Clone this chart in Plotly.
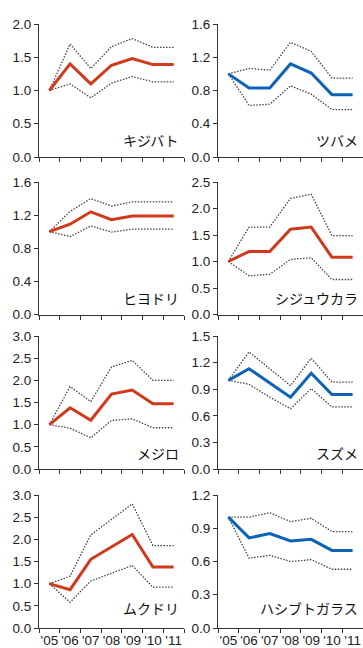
import plotly.graph_objects as go

years = ["'05", "'06", "'07", "'08", "'09", "'10", "'11"]

# キジバト
kijibato_mid = [1.0, 1.40, 1.10, 1.38, 1.48, 1.39, 1.39]
kijibato_hi = [1.0, 1.70, 1.33, 1.66, 1.78, 1.65, 1.65]
kijibato_lo = [1.0, 1.10, 0.89, 1.11, 1.21, 1.13, 1.13]
# ツバメ
tsubame_mid = [1.0, 0.83, 0.83, 1.12, 1.01, 0.75, 0.75]
tsubame_hi = [1.0, 1.065, 1.045, 1.38, 1.27, 0.95, 0.95]
tsubame_lo = [1.0, 0.62, 0.635, 0.856, 0.756, 0.57, 0.57]
# ヒヨドリ
hiyodori_mid = [1.0, 1.09, 1.24, 1.145, 1.19, 1.19, 1.19]
hiyodori_hi = [1.0, 1.245, 1.40, 1.31, 1.36, 1.36, 1.36]
hiyodori_lo = [1.0, 0.94, 1.07, 0.995, 1.03, 1.03, 1.03]
# シジュウカラ
shijukara_mid = [1.0, 1.19, 1.19, 1.61, 1.65, 1.08, 1.08]
shijukara_hi = [1.0, 1.65, 1.65, 2.19, 2.27, 1.49, 1.49]
shijukara_lo = [1.0, 0.73, 0.76, 1.04, 1.07, 0.66, 0.66]
# メジロ
mejiro_mid = [1.0, 1.38, 1.10, 1.69, 1.78, 1.47, 1.47]
mejiro_hi = [1.0, 1.86, 1.52, 2.30, 2.45, 2.0, 2.0]
mejiro_lo = [1.0, 0.92, 0.705, 1.095, 1.13, 0.93, 0.93]
# スズメ
suzume_mid = [1.0, 1.13, 0.97, 0.81, 1.08, 0.84, 0.84]
suzume_hi = [1.0, 1.32, 1.13, 0.94, 1.25, 0.98, 0.98]
suzume_lo = [1.0, 0.955, 0.81, 0.68, 0.906, 0.70, 0.70]
# ムクドリ
mukudori_mid = [1.0, 0.865, 1.55, 1.83, 2.11, 1.375, 1.375]
mukudori_hi = [1.0, 1.17, 2.10, 2.45, 2.80, 1.86, 1.86]
mukudori_lo = [1.0, 0.58, 1.06, 1.24, 1.41, 0.92, 0.92]
# ハシブトガラス
hashibuto_mid = [1.0, 0.813, 0.852, 0.785, 0.80, 0.70, 0.70]
hashibuto_hi = [1.0, 1.0, 1.04, 0.96, 0.99, 0.87, 0.87]
hashibuto_lo = [1.0, 0.63, 0.656, 0.60, 0.617, 0.53, 0.53]

RED = "#d0391c"
BLUE = "#0d63b5"

panels = [
    # name, mid, hi, lo, color, ymax, dtick, col, row
    ("キジバト", kijibato_mid, kijibato_hi, kijibato_lo, RED, 2.0, 0.5, 0, 0),
    ("ツバメ", tsubame_mid, tsubame_hi, tsubame_lo, BLUE, 1.6, 0.4, 1, 0),
    ("ヒヨドリ", hiyodori_mid, hiyodori_hi, hiyodori_lo, RED, 1.6, 0.4, 0, 1),
    ("シジュウカラ", shijukara_mid, shijukara_hi, shijukara_lo, RED, 2.5, 0.5, 1, 1),
    ("メジロ", mejiro_mid, mejiro_hi, mejiro_lo, RED, 3.0, 0.5, 0, 2),
    ("スズメ", suzume_mid, suzume_hi, suzume_lo, BLUE, 1.5, 0.3, 1, 2),
    ("ムクドリ", mukudori_mid, mukudori_hi, mukudori_lo, RED, 3.0, 0.5, 0, 3),
    ("ハシブトガラス", hashibuto_mid, hashibuto_hi, hashibuto_lo, BLUE, 1.2, 0.3, 1, 3),
]

W, H = 363, 648
col_px = [(39, 184), (218, 363)]
row_px = [(24, 157), (182, 314.5), (336, 469), (495, 628)]
label_off = [0.125, 0.125, 0.12, 0.15]

AX_COLOR = "#333333"
TICK_FONT = dict(family="Liberation Sans, Arial, sans-serif", size=13.5, color="#222222")

fig = go.Figure()
layout = dict(
    width=W, height=H,
    margin=dict(l=0, r=0, t=0, b=0, pad=0),
    paper_bgcolor="white", plot_bgcolor="white",
    showlegend=False,
    annotations=[],
)

for i, (name, mid, hi, lo, color, ymax, dtick, c, r) in enumerate(panels):
    n = i + 1
    xa = "x" if n == 1 else f"x{n}"
    ya = "y" if n == 1 else f"y{n}"
    for series, dash, width, col in [(hi, "1.5px,1.5px", 1.3, "#444444"),
                                     (lo, "1.5px,1.5px", 1.3, "#444444"),
                                     (mid, "solid", 3, color)]:
        fig.add_trace(go.Scatter(x=years, y=series, mode="lines", xaxis=xa, yaxis=ya,
                                 line=dict(color=col, width=width, dash=dash),
                                 hoverinfo="skip", cliponaxis=False))
    x0, x1 = col_px[c]
    y0, y1 = row_px[r]
    xkey = "xaxis" if n == 1 else f"xaxis{n}"
    ykey = "yaxis" if n == 1 else f"yaxis{n}"
    layout[xkey] = dict(
        domain=[x0 / W, x1 / W], anchor=ya, type="category",
        categoryorder="array", categoryarray=years,
        range=[-0.5, 6.5], showgrid=False, zeroline=False,
        showline=True, linecolor=AX_COLOR, linewidth=1,
        ticks="outside", tickson="boundaries", ticklen=4, tickcolor=AX_COLOR, tickwidth=1,
        showticklabels=(r == 3), tickangle=0, tickfont=TICK_FONT, fixedrange=True,
        automargin=False,
    )
    layout[ykey] = dict(
        domain=[1 - y1 / H, 1 - y0 / H], anchor=xa,
        range=[0, ymax], dtick=dtick, tick0=0, tickformat=".1f",
        showgrid=False, zeroline=False,
        showline=True, linecolor=AX_COLOR, linewidth=1,
        ticks="outside", ticklen=4, tickcolor=AX_COLOR, tickwidth=1,
        tickfont=TICK_FONT, fixedrange=True, automargin=False,
    )
    layout["annotations"].append(dict(
        text=name, xref=f"{xa} domain", yref=f"{ya} domain",
        x=1, y=label_off[r], xanchor="right", yanchor="middle", xshift=-3,
        showarrow=False,
        font=dict(family="Noto Sans CJK JP", size=14, color="#111111"),
    ))

fig.update_layout(**layout)
fig.write_html(
    "out.html",
    config={"displayModeBar": False},
    post_script="document.body.style.margin='0';document.body.style.padding='0';",
)
